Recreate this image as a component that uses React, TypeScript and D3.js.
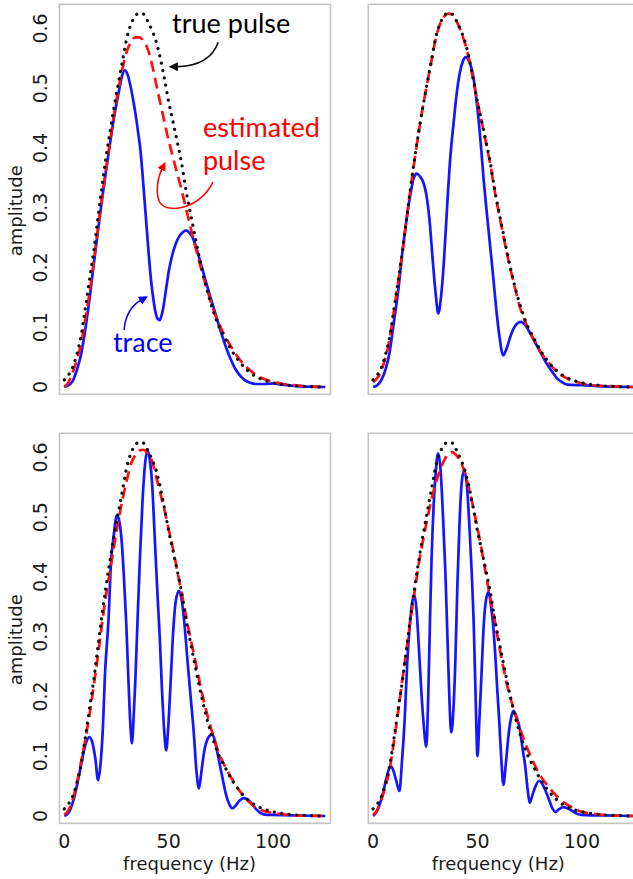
import React from 'react';
import * as d3 from 'd3';

// frequency grid (Hz) shared by the pulse curves
const pulseFreq = [0, 2, 4, 6, 8, 10, 12, 14, 16, 18, 20, 22, 24, 26, 28, 30, 32, 34, 36, 38, 40,
  42, 44, 46, 48, 50, 52, 54, 56, 58, 60, 62, 64, 66, 68, 70, 72, 74, 76, 78, 80,
  84, 88, 92, 96, 100, 105, 110, 125];

// true pulse (black dotted), same in all four panels
const truePulse = [0.012, 0.02, 0.033, 0.055, 0.085, 0.13, 0.178, 0.225, 0.28, 0.335, 0.385,
  0.43, 0.472, 0.51, 0.548, 0.585, 0.608, 0.621, 0.626, 0.624, 0.612,
  0.597, 0.578, 0.55, 0.515, 0.477, 0.445, 0.412, 0.378, 0.335, 0.298,
  0.263, 0.228, 0.196, 0.167, 0.142, 0.12, 0.102, 0.088, 0.075, 0.062,
  0.042, 0.027, 0.017, 0.011, 0.007, 0.004, 0.002, 0];

// estimated pulse (red dashed), one per panel
const estTopLeft = [0, 0.008, 0.024, 0.045, 0.072, 0.112, 0.155, 0.207, 0.262, 0.315, 0.365,
  0.413, 0.46, 0.5, 0.535, 0.562, 0.578, 0.585, 0.585, 0.579, 0.565,
  0.54, 0.507, 0.475, 0.443, 0.412, 0.385, 0.358, 0.332, 0.303, 0.274,
  0.245, 0.218, 0.192, 0.168, 0.145, 0.124, 0.107, 0.092, 0.079, 0.067,
  0.046, 0.031, 0.02, 0.013, 0.009, 0.005, 0.003, 0];
const estTopRight = [0.008, 0.015, 0.028, 0.05, 0.082, 0.128, 0.176, 0.224, 0.28, 0.333, 0.383,
  0.43, 0.472, 0.51, 0.547, 0.583, 0.607, 0.62, 0.625, 0.623, 0.612,
  0.596, 0.575, 0.548, 0.513, 0.477, 0.444, 0.41, 0.375, 0.333, 0.295,
  0.26, 0.225, 0.194, 0.165, 0.137, 0.117, 0.1, 0.086, 0.073, 0.06,
  0.041, 0.026, 0.016, 0.01, 0.006, 0.003, 0.002, 0];
const estBottomLeft = [0.002, 0.01, 0.027, 0.055, 0.09, 0.127, 0.168, 0.215, 0.265, 0.32, 0.37,
  0.412, 0.455, 0.496, 0.532, 0.563, 0.59, 0.604, 0.612, 0.613, 0.606,
  0.594, 0.568, 0.54, 0.512, 0.48, 0.448, 0.412, 0.377, 0.34, 0.305,
  0.272, 0.238, 0.205, 0.176, 0.15, 0.127, 0.105, 0.09, 0.076, 0.064,
  0.042, 0.025, 0.014, 0.008, 0.005, 0.003, 0.001, 0];
const estBottomRight = [0.002, 0.01, 0.028, 0.05, 0.08, 0.125, 0.175, 0.228, 0.278, 0.33, 0.378,
  0.425, 0.463, 0.498, 0.53, 0.557, 0.578, 0.595, 0.606, 0.609, 0.603,
  0.592, 0.574, 0.547, 0.516, 0.482, 0.445, 0.405, 0.367, 0.332, 0.292,
  0.255, 0.222, 0.195, 0.171, 0.15, 0.13, 0.112, 0.096, 0.081, 0.068,
  0.049, 0.033, 0.021, 0.013, 0.007, 0.004, 0.002, 0];

// traces (blue), [frequency, amplitude]
const traceTopLeft: [number, number][] = [[0, 0], [2, 0.003], [4, 0.01], [6, 0.028], [8, 0.054], [10, 0.095],
  [12, 0.145], [14, 0.202], [16, 0.258], [18, 0.312], [20, 0.362], [22, 0.41], [24, 0.455],
  [26, 0.492], [27.6, 0.52], [29, 0.53], [30.4, 0.522], [31.8, 0.502], [33, 0.48], [34.2, 0.455],
  [35.4, 0.425], [36.5, 0.395], [37.5, 0.355], [38.5, 0.31], [39.6, 0.26], [40.6, 0.215],
  [41.6, 0.177], [42.7, 0.146], [43.7, 0.125], [44.7, 0.114], [45.7, 0.112], [46.6, 0.12],
  [47.6, 0.137], [48.8, 0.165], [50, 0.193], [51.5, 0.218], [53, 0.236], [54.7, 0.25],
  [56.5, 0.258], [58.3, 0.262], [60, 0.258], [61.5, 0.25], [63.3, 0.232], [65.1, 0.21],
  [67.5, 0.18], [70, 0.15], [72.3, 0.124], [74.6, 0.097], [77, 0.071], [79.4, 0.049],
  [81.8, 0.031], [84.2, 0.019], [86.6, 0.011], [89, 0.007], [92, 0.005], [96, 0.005],
  [100, 0.006], [104, 0.004], [110, 0.002], [125, 0]];

const traceTopRight: [number, number][] = [[0, 0], [2, 0.003], [4, 0.012], [6, 0.03], [8, 0.06], [10, 0.11],
  [12, 0.16], [14, 0.225], [16, 0.28], [18, 0.325], [19.5, 0.35], [21, 0.357], [22.5, 0.352],
  [24, 0.343], [25.5, 0.322], [27, 0.28], [28.5, 0.215], [30, 0.155], [31.2, 0.123],
  [32.5, 0.15], [34, 0.215], [35.5, 0.305], [37, 0.385], [38.5, 0.44], [40, 0.49],
  [41.5, 0.525], [43, 0.545], [44.5, 0.552], [46, 0.545], [48, 0.519], [50, 0.465],
  [51.5, 0.41], [53, 0.345], [54.5, 0.29], [56, 0.238], [57.5, 0.185], [59, 0.13],
  [60.5, 0.085], [62.3, 0.053], [64, 0.065], [66, 0.087], [68, 0.102], [70.7, 0.109],
  [73, 0.103], [75.5, 0.088], [78, 0.072], [80.5, 0.056], [83, 0.04], [85.5, 0.027],
  [88, 0.015], [90.5, 0.008], [93, 0.004], [100, 0.003], [110, 0.001], [125, 0]];

const traceBottomLeft: [number, number][] = [[0, 0], [2, 0.005], [4, 0.022], [6, 0.05], [8, 0.085],
  [10, 0.118], [12, 0.132], [13.5, 0.122], [14.8, 0.098], [16.2, 0.06], [17.3, 0.085],
  [18.3, 0.135], [19.6, 0.245], [21.2, 0.33], [22.3, 0.42], [23.6, 0.468], [25.3, 0.504],
  [26.5, 0.49], [27.6, 0.455], [28.7, 0.39], [29.7, 0.32], [30.8, 0.22], [31.7, 0.15],
  [32.4, 0.122], [33.2, 0.165], [34, 0.225], [35, 0.32], [36.2, 0.43], [37.5, 0.53],
  [38.7, 0.59], [39.9, 0.612], [41, 0.595], [42, 0.56], [43.2, 0.475], [44.5, 0.38],
  [45.7, 0.3], [46.8, 0.21], [47.9, 0.14], [48.8, 0.11], [49.8, 0.15], [50.8, 0.215],
  [52, 0.3], [53.4, 0.36], [54.9, 0.377], [56.3, 0.36], [57.6, 0.32], [59, 0.26],
  [60.5, 0.2], [62, 0.14], [63.3, 0.075], [64.5, 0.046], [65.7, 0.075], [67, 0.108],
  [68.8, 0.13], [70.9, 0.137], [72.5, 0.12], [74, 0.094], [75.7, 0.065], [77.3, 0.038],
  [79, 0.02], [80.6, 0.013], [82.2, 0.018], [84, 0.026], [86, 0.03], [88, 0.027], [90, 0.02],
  [92, 0.011], [94, 0.005], [97, 0.002], [100, 0.002], [110, 0.001], [125, 0]];

const traceBottomRight: [number, number][] = [[0, 0], [1.5, 0.006], [3, 0.018], [4.7, 0.038],
  [6.5, 0.065], [8.4, 0.084], [9.8, 0.075], [11, 0.06], [12.6, 0.042], [13.8, 0.09],
  [15.1, 0.16], [16.4, 0.26], [17.6, 0.32], [18.6, 0.355], [19.7, 0.37], [20.8, 0.345],
  [21.8, 0.29], [23, 0.215], [24.3, 0.15], [25.5, 0.116], [26.4, 0.2], [27.2, 0.32],
  [28, 0.43], [29, 0.52], [30, 0.575], [31.1, 0.607], [32.3, 0.58], [33.5, 0.5],
  [34.6, 0.41], [35.6, 0.3], [36.6, 0.19], [37.4, 0.14], [38.5, 0.18], [39.4, 0.26],
  [40.4, 0.39], [41.5, 0.5], [42.5, 0.56], [43.6, 0.578], [45, 0.55], [46.2, 0.48],
  [47.2, 0.41], [48.2, 0.32], [49.1, 0.2], [50, 0.1], [50.9, 0.16], [51.7, 0.22],
  [53, 0.32], [54, 0.36], [55.3, 0.375], [56.5, 0.35], [57.5, 0.32], [58.5, 0.27],
  [59.5, 0.21], [60.4, 0.16], [61.4, 0.095], [62.4, 0.052], [63.5, 0.085], [64.8, 0.133],
  [66, 0.163], [67.3, 0.176], [68.8, 0.165], [70.4, 0.143], [71.7, 0.11], [72.8, 0.085],
  [74, 0.045], [75, 0.022], [76.3, 0.035], [77.6, 0.048], [79.5, 0.059], [81, 0.054],
  [82.4, 0.044], [84.5, 0.025], [86, 0.012], [87.3, 0.007], [89.2, 0.012], [91.2, 0.015],
  [93, 0.013], [95.2, 0.009], [97.5, 0.004], [100, 0.002], [110, 0.001], [125, 0]];

const yTicks = [0, 0.1, 0.2, 0.3, 0.4, 0.5, 0.6];
const xTicks = [0, 50, 100];

const W = 633;
const H = 879;
const PW = 271;
const PH = 390;
const axisFont = "'DejaVu Sans', Verdana, sans-serif";
const noteFont = "Lato, 'Open Sans', sans-serif";

const panels = [
  { left: 59.5, top: 4.3, est: estTopLeft, trace: traceTopLeft, yAxis: true, xAxis: false, notes: true },
  { left: 368.3, top: 4.3, est: estTopRight, trace: traceTopRight, yAxis: false, xAxis: false, notes: false },
  { left: 59.5, top: 433.3, est: estBottomLeft, trace: traceBottomLeft, yAxis: true, xAxis: true, notes: false },
  { left: 368.3, top: 433.3, est: estBottomRight, trace: traceBottomRight, yAxis: false, xAxis: true, notes: false },
];

const Panel = ({ p }: { p: typeof panels[number] }) => {
  const x = d3.scaleLinear().domain([-2.3, 127.5]).range([p.left, p.left + PW]);
  const y = d3.scaleLinear().domain([-0.0122, 0.6405]).range([p.top + PH, p.top]);

  const line = d3.line<[number, number]>()
    .x(d => x(d[0]))
    .y(d => y(d[1]))
    .curve(d3.curveMonotoneX);

  const trueD = line(pulseFreq.map((f, i) => [f, truePulse[i]] as [number, number])) || '';
  const estD = line(pulseFreq.map((f, i) => [f, p.est[i]] as [number, number])) || '';
  const traceD = line(p.trace) || '';

  return (
    <g>
      <rect x={p.left} y={p.top} width={PW} height={PH} fill="none" stroke="#c4c4c4" strokeWidth={1.6} />
      <path d={traceD} fill="none" stroke="#1515ff" strokeWidth={2.7} />
      <path d={estD} fill="none" stroke="#ff1010" strokeWidth={2.7} strokeDasharray="11 6" />
      <path d={trueD} fill="none" stroke="#111" strokeWidth={3.2} strokeDasharray="0.1 7.4" strokeLinecap="round" />

      {p.yAxis && yTicks.map(t => (
        <text key={t} x={47} y={y(t)} transform={`rotate(-90, 47, ${y(t)})`} textAnchor="middle"
          fontFamily={axisFont} fontSize={19} fill="#1a1a1a">{t === 0 ? '0' : String(t)}</text>
      ))}
      {p.yAxis && (
        <text x={22} y={y(0.295)} transform={`rotate(-90, 22, ${y(0.295)})`} textAnchor="middle"
          fontFamily={axisFont} fontSize={18} fill="#1a1a1a">amplitude</text>
      )}
      {p.xAxis && xTicks.map(t => (
        <text key={t} x={x(t)} y={p.top + PH + 25} textAnchor="middle"
          fontFamily={axisFont} fontSize={19} fill="#1a1a1a">{t}</text>
      ))}
      {p.xAxis && (
        <text x={x(60)} y={p.top + PH + 47} textAnchor="middle"
          fontFamily={axisFont} fontSize={18} fill="#1a1a1a">frequency (Hz)</text>
      )}

      {p.notes && (
        <g>
          <text x={x(51.6)} y={y(0.5925)} fontFamily={noteFont} fontSize={27} fill="#000">true pulse</text>
          <path d={`M${x(73.7)},${y(0.577)} Q${x(69.8)},${y(0.537)} ${x(53.5)},${y(0.536)}`}
            fill="none" stroke="#000" strokeWidth={1.5} markerEnd="url(#arrowBlack)" />

          <text x={x(66.4)} y={y(0.418)} fontFamily={noteFont} fontSize={27} fill="#ff0000">estimated</text>
          <text x={x(66.4)} y={y(0.363)} fontFamily={noteFont} fontSize={27} fill="#ff0000">pulse</text>
          <path d={`M${x(71.2)},${y(0.343)} C${x(65)},${y(0.3)} ${x(49.7)},${y(0.287)} ${x(45.6)},${y(0.31)} C${x(43.6)},${y(0.325)} ${x(44.6)},${y(0.35)} ${x(46.9)},${y(0.366)}`}
            fill="none" stroke="#ff0000" strokeWidth={1.5} markerEnd="url(#arrowRed)" />

          <text x={x(23.3)} y={y(0.0586)} fontFamily={noteFont} fontSize={27} fill="#0000ff">trace</text>
          <path d={`M${x(28.6)},${y(0.0954)} Q${x(29.6)},${y(0.132)} ${x(37)},${y(0.146)}`}
            fill="none" stroke="#0000ff" strokeWidth={1.5} markerEnd="url(#arrowBlue)" />
        </g>
      )}
    </g>
  );
};

export default function App() {
  return (
    <svg width={W} height={H} style={{ position: 'absolute', left: 0, top: 0, background: '#fff' }}>
      <defs>
        {[['arrowBlack', '#000'], ['arrowRed', '#ff0000'], ['arrowBlue', '#0000ff']].map(([id, c]) => (
          <marker key={id} id={id} viewBox="0 0 10 10" refX={2} refY={5} markerWidth={6} markerHeight={6}
            orient="auto" markerUnits="strokeWidth">
            <path d="M0,0 L10,5 L0,10 z" fill={c} />
          </marker>
        ))}
      </defs>
      <rect x={0} y={0} width={W} height={H} fill="#fff" />
      {panels.map((p, i) => <Panel key={i} p={p} />)}
    </svg>
  );
}
